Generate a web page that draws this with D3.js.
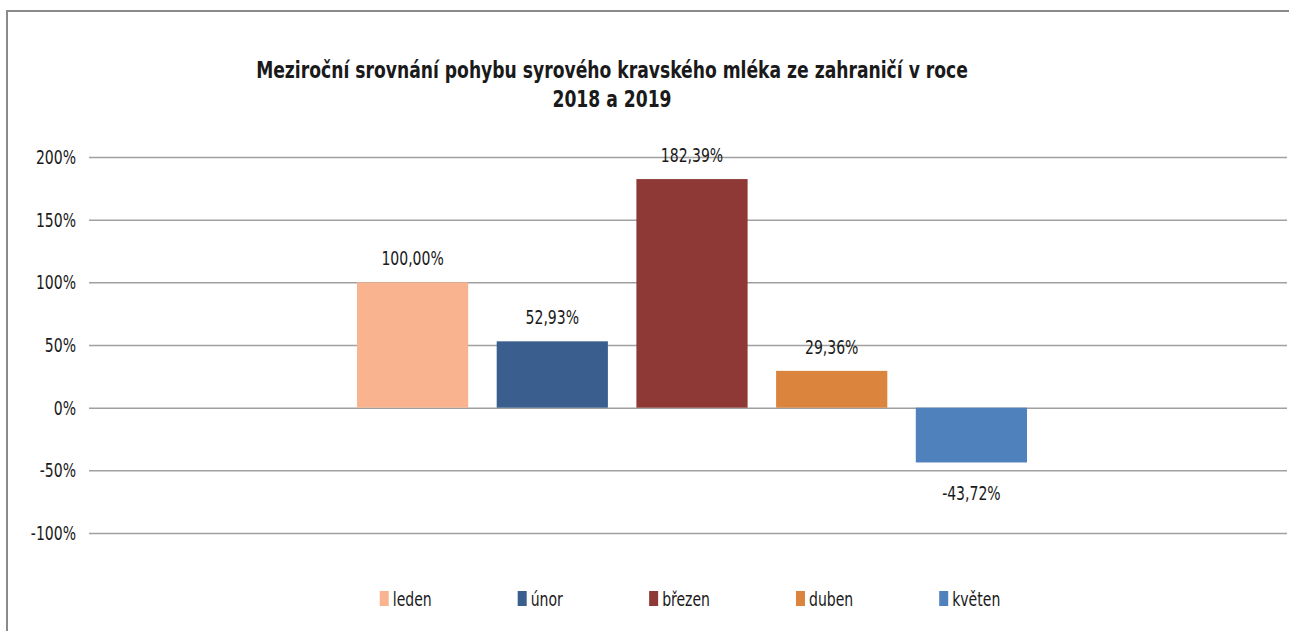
<!DOCTYPE html>
<html lang="cs">
<head>
<meta charset="utf-8">
<script src="https://cdn.jsdelivr.net/npm/d3@7"></script>
<style>
	body { margin: 0; background: #fff; }
	svg { display: block; }
	text { font-family: "DejaVu Sans Condensed", "Liberation Sans", sans-serif; fill: #1a1a1a; }
	.grid line { stroke: #a0a0a0; stroke-width: 1.5; }
	.grid .domain { display: none; }
</style>
</head>
<body>
<div id="graphic"></div>
<script>
// data
const months = ['leden', 'únor', 'březen', 'duben', 'květen'];
const values = [100.00, 52.93, 182.39, 29.36, -43.72];
const colours = ['#f9b48f', '#3a5f8e', '#8e3936', '#db843d', '#4f81bd'];
const yTicks = [-100, -50, 0, 50, 100, 150, 200];
const titleLines = ['Meziroční srovnání pohybu syrového kravského mléka ze zahraničí v roce', '2018 a 2019'];

const width = 1289, height = 631;
const margin = { top: 157, right: 2, bottom: 98, left: 89 };
const chartWidth = width - margin.left - margin.right;
const chartHeight = height - margin.top - margin.bottom;

// the original font is narrow, so squeeze text horizontally
const squeeze = 0.78;
const place = (x, y, sx) => `translate(${x},${y}) scale(${sx},1)`;

const svg = d3.select('#graphic')
	.append('svg')
	.attr('width', width)
	.attr('height', height);

// outer frame
svg.append('rect')
	.attr('x', 7)
	.attr('y', 11)
	.attr('width', width + 10)
	.attr('height', height + 10)
	.attr('fill', 'none')
	.attr('stroke', '#8a8a8a')
	.attr('stroke-width', 2);

// title
svg.append('g')
	.selectAll('text')
	.data(titleLines)
	.join('text')
	.attr('transform', (d, i) => place(612, 78 + i * 29, 0.83))
	.attr('text-anchor', 'middle')
	.attr('font-weight', 'bold')
	.attr('font-size', 23)
	.attr('fill', '#000')
	.text(d => d);

const g = svg.append('g')
	.attr('transform', `translate(${margin.left},${margin.top})`);

const y = d3.scaleLinear()
	.domain([-100, 200])
	.range([chartHeight, 0]);

// bars sit in the middle of the plot, one band per month
const groupLeft = 357 - margin.left, groupRight = 1027 - margin.left;
const x = d3.scaleBand()
	.domain(months)
	.range([groupLeft, groupRight])
	.paddingInner(0.204)
	.paddingOuter(0);

// grid lines
g.append('g')
	.attr('class', 'grid')
	.call(d3.axisLeft(y).tickValues(yTicks).tickSize(-chartWidth).tickFormat(''));

// y axis labels
g.append('g')
	.selectAll('text')
	.data(yTicks)
	.join('text')
	.attr('transform', d => place(-13, y(d) + 7, squeeze))
	.attr('text-anchor', 'end')
	.attr('font-size', 20)
	.text(d => d + '%');

// bars
g.selectAll('rect.bar')
	.data(months)
	.join('rect')
	.attr('class', 'bar')
	.attr('x', d => x(d))
	.attr('width', x.bandwidth())
	.attr('y', (d, i) => y(Math.max(0, values[i])))
	.attr('height', (d, i) => Math.abs(y(values[i]) - y(0)))
	.attr('fill', (d, i) => colours[i]);

// value labels
const fmt = v => (v < 0 ? '-' : '') + d3.format('.2f')(Math.abs(v)).replace('.', ',') + '%';
g.selectAll('text.value')
	.data(months)
	.join('text')
	.attr('class', 'value')
	.attr('transform', (d, i) => place(
		x(d) + x.bandwidth() / 2,
		values[i] >= 0 ? y(values[i]) - 17 : y(values[i]) + 38,
		squeeze))
	.attr('text-anchor', 'middle')
	.attr('font-size', 20)
	.text((d, i) => fmt(values[i]));

// legend, items flowed with a fixed gap and centred
const legend = svg.append('g').attr('transform', 'translate(0,598)');
const items = legend.selectAll('g')
	.data(months)
	.join('g');

items.append('rect')
	.attr('y', -7)
	.attr('width', 9)
	.attr('height', 15)
	.attr('fill', (d, i) => colours[i]);

items.append('text')
	.attr('transform', place(13, 8, squeeze))
	.attr('font-size', 20)
	.text(d => d);

let widths = [];
items.each(function () { widths.push(this.getBBox().width); });
const gap = 86;
const total = d3.sum(widths) + gap * (widths.length - 1);
let cx = 690 - total / 2;
items.attr('transform', (d, i) => {
	const t = `translate(${cx},0)`;
	cx += widths[i] + gap;
	return t;
});
</script>
</body>
</html>
